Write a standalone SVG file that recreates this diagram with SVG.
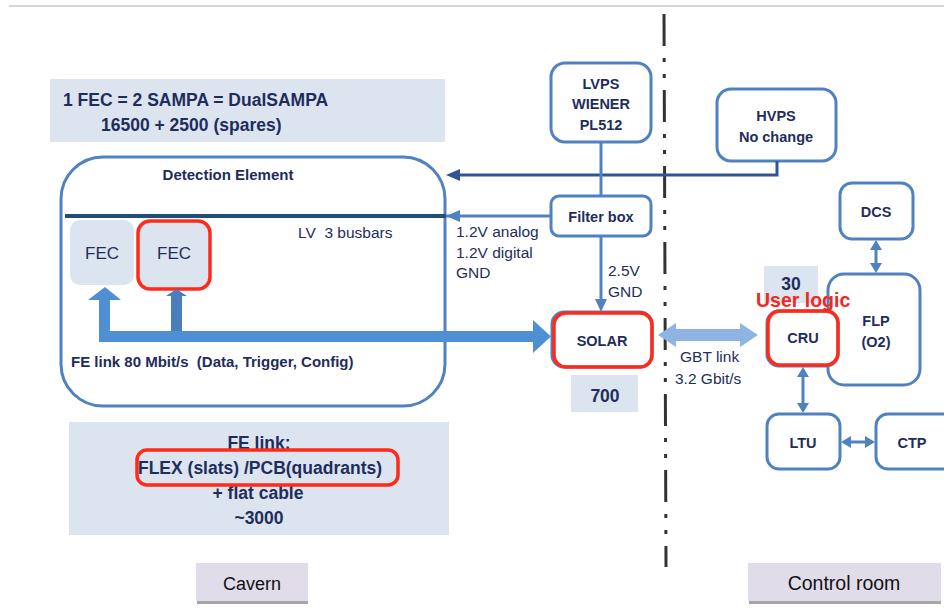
<svg xmlns="http://www.w3.org/2000/svg" width="944" height="615" viewBox="0 0 944 615">
<defs>
<style>
.t{font-family:"Liberation Sans",Arial,sans-serif;fill:#1f2d5c;white-space:pre}
.b{font-weight:bold}
.box{fill:#fff;stroke:#5082c0;stroke-width:3}
.info{fill:#dbe4ef}
.red{fill:none;stroke:#ff2a1a;stroke-width:3.5}
.lbl{fill:#e1dcea}
.arr{fill:#5082c0}
</style>
</defs>
<rect width="944" height="615" fill="#fff"/>
<line x1="9" y1="6" x2="944" y2="6" stroke="#c8c8c8" stroke-width="1.5"/>

<g id="info-fec">
<rect class="info" x="50" y="79" width="395" height="63"/>
<text class="t b" x="63" y="106" font-size="17.5">1 FEC = 2 SAMPA = DualSAMPA</text>
<text class="t b" x="101" y="131" font-size="17.5">16500 + 2500 (spares)</text>
</g>

<g id="detection-element">
<rect class="box" x="61" y="157" width="384" height="249" rx="42"/>
<text class="t b" x="228" y="180" font-size="15" text-anchor="middle">Detection Element</text>
<text class="t" x="298" y="238" font-size="15.5">LV  3 busbars</text>
<text class="t b" x="71" y="367" font-size="15">FE link 80 Mbit/s  (Data, Trigger, Config)</text>
</g>

<g id="fec1">
<rect x="70" y="220" width="64" height="65" rx="10" fill="#dbe4ef"/>
<text class="t" x="102" y="259" font-size="17" text-anchor="middle">FEC</text>
</g>
<g id="fec2">
<rect x="138" y="221" width="72" height="68" rx="12" fill="#dbe4ef" stroke="#ff2a1a" stroke-width="3.5"/>
<text class="t" x="174" y="259" font-size="17" text-anchor="middle">FEC</text>
</g>

<g id="info-felink">
<rect class="info" x="69" y="422" width="380" height="113"/>
<text class="t b" x="259" y="449" font-size="17.5" text-anchor="middle">FE link:</text>
<text class="t b" x="260" y="474" font-size="17.5" text-anchor="middle">FLEX (slats) /PCB(quadrants)</text>
<text class="t b" x="258" y="499" font-size="17.5" text-anchor="middle">+ flat cable</text>
<text class="t b" x="259" y="524" font-size="17.5" text-anchor="middle">~3000</text>
<rect class="red" x="137" y="450" width="261" height="35" rx="10"/>
</g>

<g id="cavern">
<rect x="197" y="600" width="111" height="4" fill="#a6a6a6"/>
<rect class="lbl" x="196" y="563" width="112" height="38"/>
<text x="252" y="590" font-size="18" text-anchor="middle" font-family="Liberation Sans, Arial, sans-serif" fill="#111">Cavern</text>
</g>
<g id="control-room">
<rect x="749" y="600" width="192" height="4" fill="#a6a6a6"/>
<rect class="lbl" x="748" y="563" width="193" height="38"/>
<text x="844" y="590" font-size="19.5" text-anchor="middle" font-family="Liberation Sans, Arial, sans-serif" fill="#111">Control room</text>
</g>

<g id="lvps">
<rect class="box" x="551" y="63" width="100" height="79" rx="14"/>
<text class="t b" x="601" y="89" font-size="14.5" text-anchor="middle">LVPS</text>
<text class="t b" x="601" y="109" font-size="14.5" text-anchor="middle">WIENER</text>
<text class="t b" x="601" y="130" font-size="14.5" text-anchor="middle">PL512</text>
</g>
<g id="hvps">
<rect class="box" x="717" y="89" width="119" height="72" rx="14"/>
<text class="t b" x="776" y="121" font-size="14.5" text-anchor="middle">HVPS</text>
<text class="t b" x="776" y="142" font-size="14.5" text-anchor="middle">No change</text>
</g>
<g id="filter-box">
<rect class="box" x="551" y="196" width="100" height="40" rx="8"/>
<text class="t b" x="601" y="222" font-size="14.5" text-anchor="middle">Filter box</text>
</g>
<g id="solar">
<rect class="box" x="552" y="312" width="100" height="55" rx="12"/>
<rect class="red" x="554" y="313" width="98" height="54" rx="12"/>
<text class="t b" x="602" y="346" font-size="14.5" text-anchor="middle">SOLAR</text>
</g>
<g id="count-700">
<rect class="info" x="571" y="375" width="67" height="37"/>
<text class="t b" x="605" y="402" font-size="17.5" text-anchor="middle">700</text>
</g>
<g id="count-30">
<rect class="info" x="764" y="266" width="54" height="37"/>
<text class="t b" x="791" y="290" font-size="17.5" text-anchor="middle">30</text>
</g>
<g id="flp">
<rect class="box" x="828" y="274" width="92" height="111" rx="16"/>
<text class="t b" x="876" y="326" font-size="14.5" text-anchor="middle">FLP</text>
<text class="t b" x="876" y="347" font-size="14.5" text-anchor="middle">(O2)</text>
</g>
<g id="cru">
<rect class="box" x="767" y="311" width="71" height="55" rx="12"/>
<rect class="red" x="768" y="311" width="70" height="54" rx="12"/>
<text class="t b" x="803" y="343" font-size="14.5" text-anchor="middle">CRU</text>
</g>
<text x="756" y="307" font-size="19.5" font-weight="bold" font-family="Liberation Sans, Arial, sans-serif" fill="#f0281e">User logic</text>
<g id="dcs">
<rect class="box" x="840" y="183" width="73" height="56" rx="12"/>
<text class="t b" x="876" y="217" font-size="14.5" text-anchor="middle">DCS</text>
</g>
<g id="ltu">
<rect class="box" x="767" y="414" width="73" height="55" rx="12"/>
<text class="t b" x="803" y="448" font-size="14.5" text-anchor="middle">LTU</text>
</g>
<g id="ctp">
<rect class="box" x="876" y="414" width="80" height="55" rx="12"/>
<text class="t b" x="912" y="448" font-size="14.5" text-anchor="middle">CTP</text>
</g>

<g id="connectors">
<line x1="664" y1="14" x2="666" y2="567" stroke="#333" stroke-width="3" stroke-dasharray="32 12 4 12 4 12"/>
<polyline points="777,161 777,175 457,175" fill="none" stroke="#2f5597" stroke-width="3"/>
<path d="M446,175 L460,169 L460,181 z" fill="#2f5597"/>
<line x1="65" y1="216" x2="446" y2="216" stroke="#1f4e79" stroke-width="4"/>
<line x1="446" y1="216" x2="551" y2="216" stroke="#5082c0" stroke-width="3"/>
<path d="M446,216 L460,210 L460,222 z" class="arr"/>
<line x1="601" y1="142" x2="601" y2="196" stroke="#5082c0" stroke-width="3"/>
<line x1="601" y1="236" x2="601" y2="302" stroke="#5082c0" stroke-width="3"/>
<path d="M601,312 L595,299 L607,299 z" class="arr"/>
<text class="t" x="456" y="237" font-size="15.5">1.2V analog</text>
<text class="t" x="456" y="258" font-size="15.5">1.2V digital</text>
<text class="t" x="456" y="278" font-size="15.5">GND</text>
<text class="t" x="608" y="276" font-size="15.5">2.5V</text>
<text class="t" x="608" y="297" font-size="15.5">GND</text>
<path d="M99,342 L99,300 L88,300 L105,287 L121,300 L110,300 L110,331 L533,331 L533,320 L551,336.5 L533,353 L533,342 z" fill="#4f8fd4"/>
<path d="M171,331 L171,296 L166,296 L176.5,289 L187,296 L182,296 L182,331 z" fill="#4a7ebb"/>
<path d="M658,335 L676,323 L676,329 L740,329 L740,323 L758,335 L740,347 L740,341 L676,341 L676,347 z" fill="#8eb4e3"/>
<text class="t" x="680" y="362" font-size="15.5">GBT link</text>
<text class="t" x="675" y="384" font-size="15.5">3.2 Gbit/s</text>
<line x1="876" y1="248" x2="876" y2="265" stroke="#5082c0" stroke-width="3"/>
<path d="M876,240 L870,250 L882,250 z M876,273 L870,263 L882,263 z" class="arr"/>
<line x1="803" y1="376" x2="803" y2="404" stroke="#5082c0" stroke-width="3"/>
<path d="M803,367 L797,377 L809,377 z M803,413 L797,403 L809,403 z" class="arr"/>
<line x1="850" y1="442" x2="866" y2="442" stroke="#5082c0" stroke-width="3"/>
<path d="M841,442 L851,436 L851,448 z M875,442 L865,436 L865,448 z" class="arr"/>
</g>
</svg>
